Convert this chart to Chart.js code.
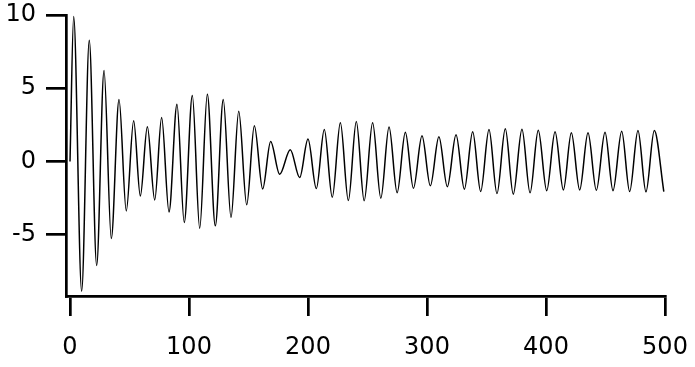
<!DOCTYPE html>
<html>
<head>
<meta charset="utf-8">
<script src="https://cdn.jsdelivr.net/npm/chart.js@4.4.1/dist/chart.umd.min.js"></script>
<style>
  html, body { margin: 0; padding: 0; background: #fff; }
  #wrap { width: 695px; height: 367px; }
</style>
</head>
<body>
<div id="wrap"><canvas id="c" width="695" height="367"></canvas></div>
<script>
// Extrema (and end points) of the trace
const sampleX = [0, 3.1, 9.8, 16.2, 22.4, 28.6, 34.7, 41.2, 47.3, 53.5, 59.1, 65.0, 71.2, 77.0, 83.2, 89.9, 96.0, 102.8, 109.0, 115.4, 122.1, 128.8, 135.3, 141.8, 148.5, 154.9, 161.9, 168.6, 176.2, 185.1, 193.0, 200.0, 207.0, 213.7, 220.4, 227.2, 233.9, 240.6, 247.2, 254.3, 261.2, 268.1, 274.9, 281.8, 288.6, 295.8, 302.8, 310.0, 317.1, 324.4, 331.4, 338.4, 345.1, 352.1, 358.8, 365.8, 372.5, 379.8, 386.6, 393.5, 400.6, 407.6, 414.6, 421.3, 428.3, 435.3, 442.3, 449.6, 456.3, 463.6, 470.3, 477.3, 484.0, 491.0, 499.0];
const sampleY = [0, 9.9, -8.86, 8.27, -7.1, 6.22, -5.25, 4.23, -3.37, 2.78, -2.35, 2.37, -2.62, 3.0, -3.44, 3.91, -4.16, 4.5, -4.55, 4.59, -4.39, 4.23, -3.82, 3.43, -2.96, 2.44, -1.87, 1.37, -0.87, 0.8, -1.1, 1.53, -1.85, 2.19, -2.44, 2.64, -2.67, 2.73, -2.68, 2.64, -2.5, 2.36, -2.13, 2.0, -1.83, 1.76, -1.66, 1.69, -1.72, 1.83, -1.89, 2.03, -2.05, 2.19, -2.19, 2.23, -2.23, 2.21, -2.14, 2.14, -1.99, 2.03, -1.94, 1.96, -1.94, 1.96, -1.96, 2.0, -1.99, 2.07, -2.05, 2.12, -2.07, 2.12, -2.05];
const xTicks = [0, 100, 200, 300, 400, 500];
const yTicks = [-5, 0, 5, 10];

const points = sampleX.map((x, i) => ({ x: x, y: sampleY[i] }));
const tickFont = { family: 'DejaVu Sans', size: 24 };

new Chart(document.getElementById('c'), {
  type: 'line',
  data: {
    datasets: [{
      data: points,
      borderColor: '#000',
      borderWidth: 1.5,
      pointRadius: 0,
      fill: false,
      cubicInterpolationMode: 'monotone'
    }]
  },
  options: {
    responsive: false,
    devicePixelRatio: 1,
    animation: false,
    layout: { padding: { top: 15, right: 30, left: 0, bottom: 0 } },
    plugins: { legend: { display: false }, tooltip: { enabled: false } },
    scales: {
      x: {
        type: 'linear',
        min: -3.36,
        max: 500,
        afterBuildTicks: s => { s.ticks = xTicks.map(v => ({ value: v })); },
        afterFit: s => { s.height = 71; s.paddingLeft = 0; s.paddingRight = 0; },
        grid: { drawOnChartArea: false, drawTicks: true, tickLength: 20, color: '#000', lineWidth: 2.7 },
        border: { display: true, color: '#000', width: 2.7 },
        ticks: { color: '#000', font: tickFont, padding: 17, maxRotation: 0, autoSkip: false }
      },
      y: {
        type: 'linear',
        min: -9.18,
        max: 10,
        afterBuildTicks: s => { s.ticks = yTicks.map(v => ({ value: v })); },
        afterFit: s => { s.width = 66; s.paddingTop = 0; s.paddingBottom = 0; },
        grid: { drawOnChartArea: false, drawTicks: true, tickLength: 20, color: '#000', lineWidth: 2.7 },
        border: { display: true, color: '#000', width: 2.7 },
        ticks: { color: '#000', font: tickFont, padding: 10, autoSkip: false }
      }
    }
  }
});
</script>
</body>
</html>
